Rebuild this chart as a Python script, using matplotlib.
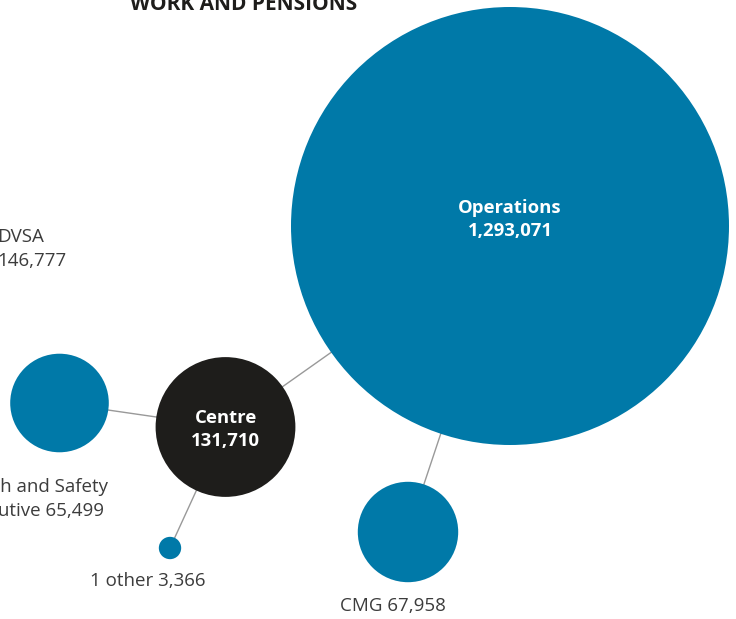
import matplotlib.pyplot as plt
from matplotlib.patches import Circle
import numpy as np

plt.rcParams['font.family'] = ['Open Sans', 'DejaVu Sans']

# Node data (staff numbers)
names = ['Operations', 'Centre', 'DVSA', 'Health and Safety\nExecutive', 'CMG', '1 other']
values = [1293071, 131710, 146777, 65499, 67958, 3366]
node_x = [510, 225.5, -90, 59.5, 408, 170]
node_y = [226, 427, 150, 403, 532, 548]
node_colors = ['#0079a8', '#1e1d1b', '#0079a8', '#0079a8', '#0079a8', '#0079a8']
# links between nodes (index pairs)
links = [(1, 0), (1, 3), (1, 5), (0, 4)]

# label settings for outer nodes: position and alignment
label_text = [None, None, 'DVSA\n146,777', 'Health and Safety\nExecutive 65,499', 'CMG 67,958', '1 other 3,366']
label_x = [None, None, -3, 31, 393, 148]
label_y = [None, None, 249, 499, 606, 581]
label_ha = [None, None, 'left', 'center', 'center', 'center']

scale = 219 / np.sqrt(values[0])

fig = plt.figure(figsize=(7.36, 6.19), dpi=100)
ax = fig.add_axes([0, 0, 1, 1])
ax.set_xlim(0, 736)
ax.set_ylim(619, 0)
ax.set_aspect('equal')
ax.axis('off')

for a, b in links:
    ax.plot([node_x[a], node_x[b]], [node_y[a], node_y[b]], color='#999999', lw=1, zorder=1)

for i in range(len(values)):
    r = scale * np.sqrt(values[i])
    ax.add_patch(Circle((node_x[i], node_y[i]), r, color=node_colors[i], zorder=2, lw=0))

# labels inside big nodes
for i in [0, 1]:
    ax.text(node_x[i], node_y[i] - 9 if i == 1 else node_y[i] - 18, names[i],
            ha='center', va='center', color='white', fontsize=13.3, fontweight='bold', zorder=3)
    ax.text(node_x[i], node_y[i] + 14 if i == 1 else node_y[i] + 5, f'{values[i]:,}',
            ha='center', va='center', color='white', fontsize=13.3, fontweight='bold', zorder=3)

for i in range(2, len(values)):
    ax.text(label_x[i], label_y[i], label_text[i], ha=label_ha[i], va='center',
            color='#3c3c3c', fontsize=13.5, linespacing=1.4, multialignment=label_ha[i])

ax.text(244, 10, 'WORK AND PENSIONS', ha='center', va='baseline', color='#1e1d1b',
        fontsize=15, fontweight='bold')

fig.savefig('out.png', dpi=100)
